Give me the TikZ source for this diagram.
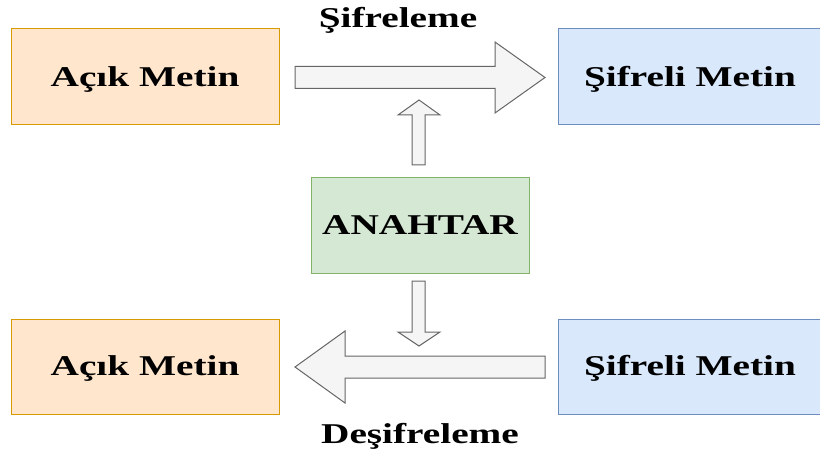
\documentclass[tikz,border=0pt]{standalone}
\usepackage{fontspec}
\setmainfont{Liberation Serif}
\newcommand\sx[1]{\scalebox{1.37}[1]{#1}}
\definecolor{orfill}{HTML}{FFE6CC}
\definecolor{ordraw}{HTML}{D79B00}
\definecolor{blfill}{HTML}{DAE8FC}
\definecolor{bldraw}{HTML}{6C8EBF}
\definecolor{grfill}{HTML}{D5E8D4}
\definecolor{grdraw}{HTML}{82B366}
\definecolor{arfill}{HTML}{F5F5F5}
\definecolor{ardraw}{HTML}{666666}
\begin{document}
\begin{tikzpicture}[x=0.75pt,y=-0.75pt,
  txt/.style={font=\fontsize{21.5}{24}\selectfont\bfseries, text=black},
  box/.style={txt, draw, line width=0.75pt, inner sep=0pt, minimum height=72pt,
    text height=14.2pt, text depth=0pt},
  plainbox/.style={box, fill=orfill, draw=ordraw, minimum width=201pt},
  cipherbox/.style={box, fill=blfill, draw=bldraw, minimum width=198pt},
  keybox/.style={box, fill=grfill, draw=grdraw, minimum width=163.5pt, minimum height=71.25pt},
  blockarrow/.style={fill=arfill, draw=ardraw, line width=0.75pt, line join=miter},
  lbl/.style={txt, inner sep=0pt, anchor=base}]
\useasboundingbox (0,0) rectangle (820,452);
\fill[white] (0,0) rectangle (820,452);
% boxes
\node[plainbox] (A1) at (145,77) {\sx{Açık Metin}};
\node[cipherbox] (S1) at (690,77) {\sx{Şifreli Metin}};
\node[keybox] (K) at (420,225.5) {\sx{ANAHTAR}};
\node[plainbox, minimum height=71.25pt] (A2) at (145,366.5) {\sx{Açık Metin}};
\node[cipherbox, minimum height=71.25pt] (S2) at (690,366.5) {\sx{Şifreli Metin}};
% block arrows
\draw[blockarrow] (295,66.5) -- (495,66.5) -- (495,42) -- (545,77.5) -- (495,113) -- (495,88.5) -- (295,88.5) -- cycle;
\draw[blockarrow] (545,356) -- (345,356) -- (345,331) -- (295,367) -- (345,403) -- (345,378) -- (545,378) -- cycle;
\draw[blockarrow] (412,165) -- (412,115) -- (398,115) -- (419,100) -- (440,115) -- (425,115) -- (425,165) -- cycle;
\draw[blockarrow] (412,281) -- (412,332) -- (398,332) -- (419,346) -- (440,332) -- (425,332) -- (425,281) -- cycle;
% labels
\node[lbl] (enc) at (398,28) {\sx{Şifreleme}};
\node[lbl] (dec) at (420,443) {\sx{Deşifreleme}};
\end{tikzpicture}
\end{document}
